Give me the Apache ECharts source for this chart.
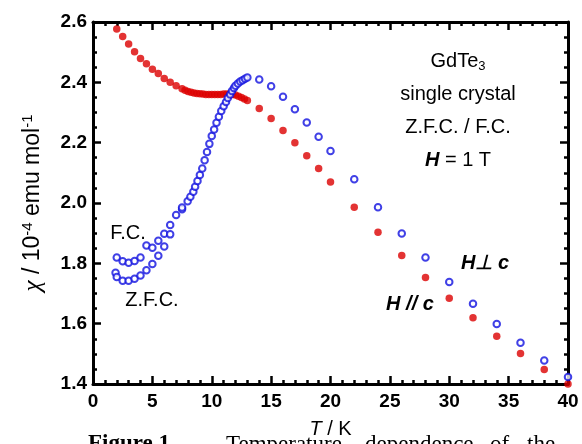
<!DOCTYPE html>
<html>
<head>
<meta charset="utf-8">
<script src="https://cdn.jsdelivr.net/npm/echarts@6/dist/echarts.min.js"></script>
<style>
  html, body { margin: 0; padding: 0; background: #fff; }
  #main { width: 582px; height: 444px; }
</style>
</head>
<body>
<div id="main"></div>
<script>
// H // c, filled red (ZFC and FC coincide)
var redT = [2.0, 2.5, 3.0, 3.5, 4.0, 4.5, 5.0, 5.5, 6.0, 6.5, 7.0, 7.5,
    7.75, 8.0, 8.25, 8.5, 8.75, 9.0, 9.25, 9.5, 9.75, 10.0, 10.25, 10.5, 10.75,
    11.0, 11.25, 11.5, 11.75, 12.0, 12.25, 12.5, 12.75, 13.0,
    14, 15, 16, 17, 18, 19, 20, 22, 24, 26, 28, 30, 32, 34, 36, 38, 40];
var redChi = [2.577, 2.552, 2.527, 2.501, 2.479, 2.462, 2.443, 2.429, 2.413, 2.400, 2.389, 2.379,
    2.374, 2.370, 2.367, 2.365, 2.363, 2.362, 2.361, 2.360, 2.360, 2.360, 2.360, 2.360, 2.360,
    2.361, 2.361, 2.361, 2.360, 2.358, 2.354, 2.350, 2.345, 2.340,
    2.313, 2.280, 2.240, 2.200, 2.157, 2.114, 2.070, 1.986, 1.903, 1.826, 1.753, 1.684, 1.620, 1.558, 1.501, 1.448, 1.400];

// H perp c, open blue: low-T ZFC branch, low-T FC branch, and the common part
var zfcT = [1.9, 2.0, 2.5, 3.0, 3.5, 4.0, 4.5, 5.0, 5.5, 6.0];
var zfcChi = [1.769, 1.755, 1.742, 1.742, 1.749, 1.760, 1.777, 1.798, 1.825, 1.856];
var fcT = [2.0, 2.5, 3.0, 3.5, 4.0, 4.5, 5.0, 5.5, 6.0, 6.5];
var fcChi = [1.819, 1.807, 1.802, 1.808, 1.819, 1.859, 1.852, 1.875, 1.898, 1.896];
var perpT = [6.5, 7.0, 7.5, 7.5, 7.97, 8.2, 8.45, 8.6, 8.8, 9.0, 9.2, 9.4, 9.6, 9.8,
    10.0, 10.2, 10.4, 10.6, 10.8, 11.0, 11.2, 11.35, 11.55, 11.7, 11.87, 12.0, 12.2, 12.4, 12.6, 12.8, 13.0,
    14, 15, 16, 17, 18, 19, 20, 22, 24, 26, 28, 30, 32, 34, 36, 38, 40];
var perpChi = [1.927, 1.960, 1.979, 1.985, 2.006, 2.021, 2.037, 2.054, 2.073, 2.093, 2.114, 2.142, 2.169, 2.196,
    2.222, 2.244, 2.266, 2.286, 2.305, 2.321, 2.335, 2.348, 2.360, 2.371, 2.381, 2.389, 2.396, 2.403, 2.407, 2.412, 2.416,
    2.409, 2.387, 2.352, 2.311, 2.267, 2.220, 2.172, 2.079, 1.986, 1.899, 1.819, 1.738, 1.666, 1.599, 1.537, 1.478, 1.423];

var xTicks = [0, 5, 10, 15, 20, 25, 30, 35, 40];
var yTicks = [1.4, 1.6, 1.8, 2.0, 2.2, 2.4, 2.6];

function pairs(xs, ys) {
    var out = [];
    for (var i = 0; i < xs.length; i++) out.push([xs[i], ys[i]]);
    return out;
}

var chart = echarts.init(document.getElementById('main'));

var font = 'Arial, "Liberation Sans", sans-serif';
var red = '#dc0000';
var blue = '#1010e0';

var lineStyle = { color: '#000', width: 3 };
var tickStyle = { color: '#000', width: 2.5 };

function xAxis(pos, labels) {
    return {
        type: 'value', position: pos, min: xTicks[0], max: xTicks[xTicks.length - 1], interval: 5,
        axisLine: { show: true, onZero: false, lineStyle: lineStyle },
        axisTick: { show: true, inside: true, length: 8, lineStyle: tickStyle },
        minorTick: { show: true, splitNumber: 5, length: 4, lineStyle: tickStyle },
        splitLine: { show: false },
        axisLabel: { show: labels, color: '#000', fontFamily: font, fontWeight: 'bold', fontSize: 19, margin: 8 }
    };
}
function yAxis(pos, labels) {
    return {
        type: 'value', position: pos, min: yTicks[0], max: yTicks[yTicks.length - 1], interval: 0.2,
        axisLine: { show: true, onZero: false, lineStyle: lineStyle },
        axisTick: { show: true, inside: true, length: 8, lineStyle: tickStyle },
        minorTick: { show: true, splitNumber: 4, length: 4, lineStyle: tickStyle },
        splitLine: { show: false },
        axisLabel: {
            show: labels, color: '#000', fontFamily: font, fontWeight: 'bold', fontSize: 19, margin: 6,
            formatter: function (v) { return v.toFixed(1); }
        }
    };
}

var xBottom = xAxis('bottom', true);
xBottom.name = '{i|T} / K';
xBottom.nameLocation = 'middle';
xBottom.nameGap = 35;
xBottom.nameTextStyle = { color: '#000', fontFamily: font, fontSize: 20, rich: { i: { fontStyle: 'italic', fontFamily: font, fontSize: 20 } } };

var yLeft = yAxis('left', true);
yLeft.name = '{i|χ} / 10{s|-4} emu mol{s|-1}';
yLeft.nameLocation = 'middle';
yLeft.nameRotate = 90;
yLeft.nameGap = 47;
yLeft.nameTextStyle = {
    color: '#000', fontFamily: font, fontSize: 23,
    rich: {
        i: { fontStyle: 'italic', fontFamily: 'serif', fontSize: 25 },
        s: { fontFamily: font, fontSize: 15, padding: [0, 0, 11, 0] }
    }
};

function label(text, x, y, extra) {
    return {
        type: 'text', x: x, y: y,
        style: Object.assign({
            text: text, fill: '#000', font: '20px ' + font,
            textAlign: 'center', textVerticalAlign: 'middle'
        }, extra || {})
    };
}

var option = {
    animation: false,
    backgroundColor: '#fff',
    grid: { left: 93, right: 14, top: 22, bottom: 58 },
    xAxis: [xBottom, xAxis('top', false)],
    yAxis: [yLeft, yAxis('right', false)],
    series: [{
        name: 'H // c', type: 'scatter', symbol: 'circle', symbolSize: 7.5,
        itemStyle: { color: red }, clip: false,
        data: pairs(redT, redChi)
    }, {
        name: 'ZFC', type: 'scatter', symbol: 'emptyCircle', symbolSize: 6.5,
        itemStyle: { color: blue, borderWidth: 1.6 }, clip: false,
        data: pairs(zfcT, zfcChi)
    }, {
        name: 'FC', type: 'scatter', symbol: 'emptyCircle', symbolSize: 6.5,
        itemStyle: { color: blue, borderWidth: 1.6 }, clip: false,
        data: pairs(fcT, fcChi)
    }, {
        name: 'H perp c', type: 'scatter', symbol: 'emptyCircle', symbolSize: 6.5,
        itemStyle: { color: blue, borderWidth: 1.6 }, clip: false,
        data: pairs(perpT, perpChi)
    }],
    graphic: [
        {
            type: 'text', x: 458, y: 61,
            style: {
                text: '{a|GdTe}{b|3}', textAlign: 'center', textVerticalAlign: 'middle',
                rich: {
                    a: { fontFamily: font, fontSize: 20, fill: '#000' },
                    b: { fontFamily: font, fontSize: 13, fill: '#000', padding: [10, 0, 0, 0] }
                }
            }
        },
        label('single crystal', 458, 94),
        label('Z.F.C. / F.C.', 458, 127),
        {
            type: 'text', x: 458, y: 160,
            style: {
                text: '{h|H} = 1 T', textAlign: 'center', textVerticalAlign: 'middle',
                fill: '#000', font: '20px ' + font,
                rich: { h: { fontFamily: font, fontSize: 20, fontWeight: 'bold', fontStyle: 'italic', fill: '#000' } }
            }
        },
        label('F.C.', 128, 233),
        label('Z.F.C.', 152, 300),
        label('H\u22A5 c', 485, 263, { font: 'italic bold 20px ' + font }),
        label('H // c', 410, 304, { font: 'italic bold 20px ' + font }),
        // caption cut off at the bottom of the picture
        { type: 'text', left: 88, top: 433, style: { text: 'Figure 1.', fill: '#000', font: 'bold 23px "Liberation Serif", serif' } },
        { type: 'text', left: 226, top: 433, style: { text: 'Temperature', fill: '#000', font: '23px "Liberation Serif", serif' } },
        { type: 'text', left: 365, top: 433, style: { text: 'dependence', fill: '#000', font: '23px "Liberation Serif", serif' } },
        { type: 'text', left: 490, top: 433, style: { text: 'of', fill: '#000', font: '23px "Liberation Serif", serif' } },
        { type: 'text', left: 527, top: 433, style: { text: 'the', fill: '#000', font: '23px "Liberation Serif", serif' } }
    ]
};

chart.setOption(option);
</script>
</body>
</html>
